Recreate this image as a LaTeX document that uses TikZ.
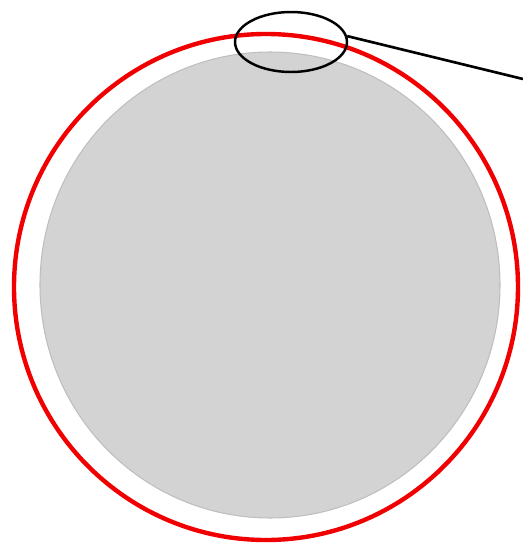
\documentclass[tikz,border=0pt]{standalone}
\usepackage{xcolor}
\usetikzlibrary{shapes.geometric, positioning}
\definecolor{corefill}{RGB}{211,211,211}
\definecolor{coreline}{RGB}{190,190,190}
\definecolor{shellred}{RGB}{240,0,0}

\begin{document}
\begin{tikzpicture}[x=0.02cm, y=-0.02cm,
    shell/.style={draw=shellred, line width=2.5pt},
    core/.style={fill=corefill, draw=coreline, line width=0.6pt},
    lens/.style={ellipse, draw, line width=1.4pt, minimum width=2.24cm, minimum height=1.2cm, inner sep=0pt}]
    \useasboundingbox (0,0) rectangle (523,545);
    \draw[core] (270,285) ellipse [x radius=230, y radius=233];
    \draw[shell] (266,287) ellipse [x radius=252, y radius=253];
    \node[lens] (zoom) at (291,42) {};
    \coordinate (tail) at (523,79);
    \draw[line width=1.5pt] (zoom.6) -- (tail);
\end{tikzpicture}
\end{document}
